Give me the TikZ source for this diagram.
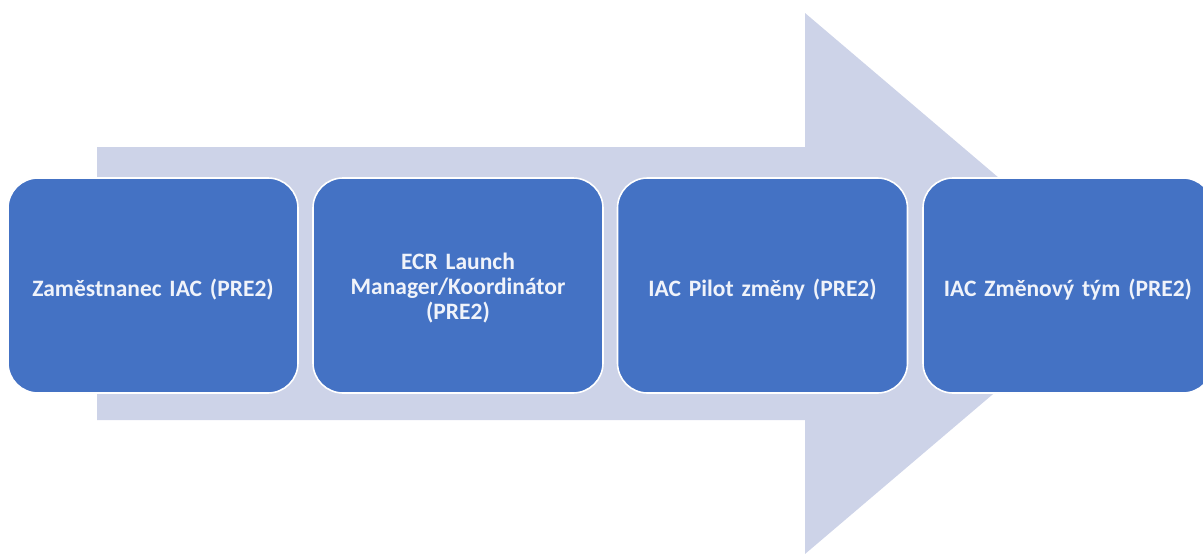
\documentclass[tikz,border=0pt]{standalone}
\usepackage{fontspec}
\setmainfont{Carlito}
\definecolor{arrowfill}{HTML}{CDD3E8}
\definecolor{boxfill}{HTML}{4472C4}
\definecolor{labeltext}{HTML}{F0F3FA}
\begin{document}
\begin{tikzpicture}[x=1pt,y=-1pt,
  stagebox/.style={draw=white, line width=1.6pt, fill=boxfill, rounded corners=30pt,
    minimum width=290pt, minimum height=215pt, inner sep=0pt},
  stagelabel/.style={text=labeltext, align=center, text width=285pt, inner sep=0pt,
    font=\bfseries\fontsize{23.5}{25}\selectfont}]
\useasboundingbox (0,0) rectangle (1203,554);
\clip (0,0) rectangle (1203,554);
% large background arrow
\fill[arrowfill] (97,147) -- (805,147) -- (805,13) -- (1123,283.5)
  -- (805,554) -- (805,420) -- (97,420) -- cycle;
% process stages
\node[stagebox] (s1) at (153,285.5) {};
\node[stagebox] (s2) at (458,285.5) {};
\node[stagebox] (s3) at (762.5,285.5) {};
\node[stagebox] (s4) at (1068,285.5) {};
% stage captions
\node[stagelabel] (t1) at ([yshift=-4pt]s1.center) {Zaměstnanec IAC (PRE2)};
\node[stagelabel] (t2) at ([yshift=-3pt]s2.center) {ECR Launch\\Manager/Koordinátor\\(PRE2)};
\node[stagelabel] (t3) at ([yshift=-4pt]s3.center) {IAC Pilot změny (PRE2)};
\node[stagelabel] (t4) at ([yshift=-4pt]s4.center) {IAC Změnový tým (PRE2)};
\end{tikzpicture}
\end{document}
